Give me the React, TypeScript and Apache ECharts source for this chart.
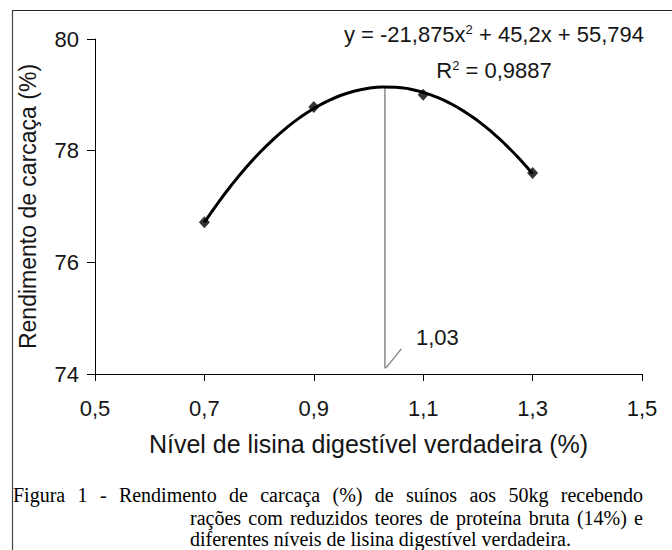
import React, { useEffect, useRef } from "react";
import * as echarts from "echarts";

// ---- data ----
const xMin = 0.5;
const xMax = 1.5;
const xStep = 0.2;
const yMin = 74;
const yMax = 80;
const yStep = 2;

const lysineLevels = [0.7, 0.9, 1.1, 1.3];
const carcassYield = [76.72, 78.78, 79.0, 77.6];

const trendX = [
  0.7, 0.725, 0.75, 0.775, 0.8, 0.825, 0.85, 0.875, 0.9, 0.925, 0.95, 0.975, 1.0,
  1.025, 1.05, 1.075, 1.1, 1.125, 1.15, 1.175, 1.2, 1.225, 1.25, 1.275, 1.3,
];
const trendY = [
  76.715, 77.066, 77.389, 77.685, 77.954, 78.195, 78.409, 78.596, 78.755, 78.887, 78.992, 79.069, 79.119,
  79.142, 79.137, 79.105, 79.045, 78.958, 78.844, 78.703, 78.534, 78.338, 78.114, 77.863, 77.585,
];

const optimumLevel = 1.03;
const optimumYield = 79.14;
const dropLineBase = 74.1;
const leaderStart = [1.032, 74.11];
const leaderEnd = [1.06, 74.45];
const optimumLabelPos = [1.126, 74.66];
const optimumLabel = "1,03";

const yAxisTitle = "Rendimento de carcaça (%)";
const xAxisTitle = "Nível de lisina digestível verdadeira (%)";
const eqMainA = "y = -21,875x";
const eqSup = "2";
const eqMainB = " + 45,2x + 55,794";
const r2A = "R";
const r2Sup = "2";
const r2B = " = 0,9887";

const captionLine1 = ["Figura", "1", "-", "Rendimento", "de", "carcaça", "(%)", "de", "suínos", "aos", "50kg", "recebendo"];
const captionLine2 = ["rações", "com", "reduzidos", "teores", "de", "proteína", "bruta", "(14%)", "e"];
const captionLine3 = "diferentes níveis de lisina digestível verdadeira.";

const SANS = "'Liberation Sans', Arial, sans-serif";
const SERIF = "'Liberation Serif', 'Times New Roman', serif";
const TEXT = "#151515";

const fmt = (v: number) => v.toFixed(1).replace(".", ",");

export default function App() {
  const ref = useRef<HTMLDivElement>(null);

  useEffect(() => {
    document.body.style.margin = "0";
    if (!ref.current) return;
    const chart = echarts.init(ref.current, undefined, { renderer: "svg" });

    chart.setOption({
      animation: false,
      backgroundColor: "#ffffff",
      grid: { left: 95, right: 30, top: 39, bottom: 176, containLabel: false },
      xAxis: {
        type: "value",
        min: xMin,
        max: xMax,
        interval: xStep,
        splitLine: { show: false },
        axisLine: { lineStyle: { color: "#000", width: 1 } },
        axisTick: { show: true, inside: false, length: 7, lineStyle: { color: "#000" } },
        axisLabel: {
          formatter: (v: number) => fmt(v),
          fontSize: 22,
          fontFamily: SANS,
          color: TEXT,
          margin: 23,
          showMinLabel: true,
          showMaxLabel: true,
        },
        name: xAxisTitle,
        nameLocation: "middle",
        nameGap: 57,
        nameTextStyle: { fontSize: 25, fontFamily: SANS, color: TEXT },
      },
      yAxis: {
        type: "value",
        min: yMin,
        max: yMax,
        interval: yStep,
        splitLine: { show: false },
        axisLine: { show: true, lineStyle: { color: "#000", width: 1 } },
        axisTick: { show: true, inside: false, length: 8, lineStyle: { color: "#000" } },
        axisLabel: {
          fontSize: 22,
          fontFamily: SANS,
          color: TEXT,
          margin: 16,
        },
        name: yAxisTitle,
        nameLocation: "middle",
        nameGap: 56,
        nameTextStyle: { fontSize: 23, fontFamily: SANS, color: TEXT },
      },
      series: [
        {
          type: "line",
          data: trendX.map((x, i) => [x, trendY[i]]),
          smooth: true,
          showSymbol: false,
          symbol: "none",
          lineStyle: { color: "#000", width: 3 },
          z: 3,
        },
        {
          type: "line",
          data: [
            [optimumLevel, dropLineBase],
            [optimumLevel, optimumYield],
          ],
          showSymbol: false,
          symbol: "none",
          lineStyle: { color: "#8a8a8a", width: 1.5 },
          z: 2,
        },
        {
          type: "line",
          data: [leaderStart, leaderEnd],
          showSymbol: false,
          symbol: "none",
          lineStyle: { color: "#8a8a8a", width: 1.5 },
          z: 2,
        },
        {
          type: "scatter",
          data: lysineLevels.map((x, i) => [x, carcassYield[i]]),
          symbol: "diamond",
          symbolSize: [11, 12],
          itemStyle: { color: "#000" },
          z: 4,
        },
      ],
    });

    const lp = chart.convertToPixel({ gridIndex: 0 }, optimumLabelPos) as number[];

    // caption layout (justified)
    const capSize = 20;
    const capFont = `${capSize}px ${SERIF}`;
    const canvas = document.createElement("canvas");
    const ctx = canvas.getContext("2d")!;
    ctx.font = capFont;
    const justify = (words: string[], x0: number, x1: number, y: number) => {
      const widths = words.map((w) => ctx.measureText(w).width);
      const total = widths.reduce((a, b) => a + b, 0);
      const gap = (x1 - x0 - total) / (words.length - 1);
      let x = x0;
      return words.map((w, i) => {
        const el = {
          type: "text",
          x,
          y,
          style: {
            text: w,
            font: capFont,
            fill: "#000",
            align: "left",
            verticalAlign: "middle",
          },
        };
        x += widths[i] + gap;
        return el;
      });
    };

    const richBase = {
      a: { fontSize: 22, fontFamily: SANS, fill: TEXT, verticalAlign: "bottom" },
      s: { fontSize: 13, fontFamily: SANS, fill: TEXT, verticalAlign: "top" },
    };

    chart.setOption({
      graphic: [
        {
          type: "line",
          shape: { x1: 12, y1: 10.5, x2: 672, y2: 10.5 },
          style: { stroke: "#222", lineWidth: 1 },
        },
        {
          type: "line",
          shape: { x1: 12.5, y1: 10, x2: 12.5, y2: 550 },
          style: { stroke: "#444", lineWidth: 1.2 },
        },
        {
          type: "text",
          x: 494,
          y: 34,
          style: {
            text: `{a|${eqMainA}}{s|${eqSup}}{a|${eqMainB}}`,
            rich: richBase,
            align: "center",
            verticalAlign: "middle",
          },
        },
        {
          type: "text",
          x: 494,
          y: 70,
          style: {
            text: `{a|${r2A}}{s|${r2Sup}}{a|${r2B}}`,
            rich: richBase,
            align: "center",
            verticalAlign: "middle",
          },
        },
        {
          type: "text",
          x: lp[0],
          y: lp[1],
          style: {
            text: optimumLabel,
            fontSize: 22,
            fontFamily: SANS,
            fill: TEXT,
            align: "center",
            verticalAlign: "middle",
          },
        },
        ...justify(captionLine1, 13, 643, 495),
        ...justify(captionLine2, 190, 643, 518),
        {
          type: "text",
          x: 190,
          y: 539,
          style: {
            text: captionLine3,
            font: capFont,
            fill: "#000",
            align: "left",
            verticalAlign: "middle",
          },
        },
      ],
    });

    return () => chart.dispose();
  }, []);

  return <div ref={ref} style={{ width: 672, height: 550 }} />;
}
